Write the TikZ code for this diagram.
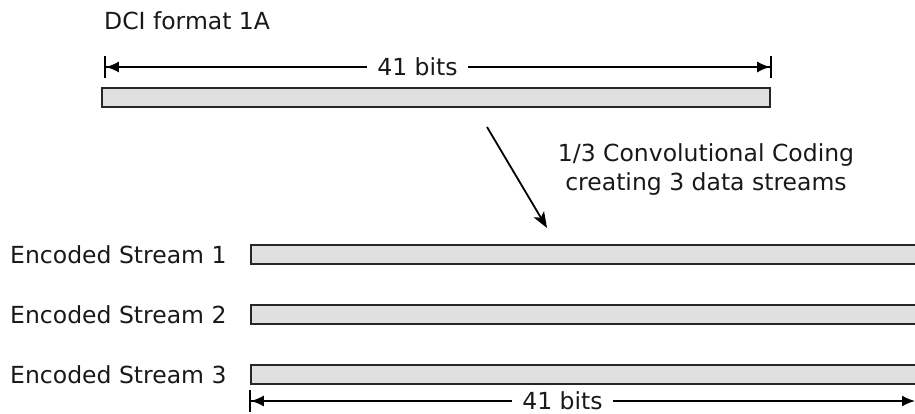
\documentclass[tikz,border=0pt]{standalone}
\usepackage{fontspec}
\setmainfont{DejaVu Sans}
\usetikzlibrary{arrows.meta}
\begin{document}
\begin{tikzpicture}[x=1pt,y=-1pt,
  txt/.style={font=\fontsize{23.5}{29}\selectfont, inner sep=0pt, text=black!90},
  bitbar/.style={draw=black!85, line width=2.2pt, fill=black!12},
  dimline/.style={line width=1.8pt},
  dimlab/.style={txt, inner xsep=10pt},
  flow/.style={line width=1.8pt, -{Stealth[length=16pt,width=12pt,inset=4pt]}}]
\useasboundingbox (0,0) rectangle (915,414);
\clip (0,0) rectangle (915,414);

% DCI input block and its width
\node[txt, anchor=west] (dci) at (104,21) {DCI format 1A};
\draw[bitbar] (102,88) rectangle (770,107);
\node[dimlab] (topbits) at (417.5,67) {41 bits};
\coordinate (topl) at (104,67);
\coordinate (topr) at (772,67);
\draw[dimline, {Bar[width=22pt]Latex[length=13pt,width=11pt]}-] (topl) -- (topbits.west);
\draw[dimline, -{Latex[length=13pt,width=11pt]Bar[width=22pt]}] (topbits.east) -- (topr);

% coding step
\coordinate (from) at (487,127);
\coordinate (to) at (547,228);
\draw[flow] (from) -- (to);
\node[txt, align=center] (coding) at (706,170) {1/3 Convolutional Coding\\creating 3 data streams};

% encoded streams
\foreach \i/\y in {1/254.5, 2/314.5, 3/374.5}{
  \node[txt, anchor=west] (lab\i) at (10,\y) {Encoded Stream \i};
  \draw[bitbar] (251,\y-9.5) rectangle (930,\y+9.5);
}

% width of the encoded streams
\node[dimlab] (botbits) at (562.5,401) {41 bits};
\coordinate (botl) at (249,401);
\coordinate (botr) at (915,401);
\draw[dimline, {Bar[width=22pt]Latex[length=13pt,width=11pt]}-] (botl) -- (botbits.west);
\draw[dimline, -{Latex[length=13pt,width=11pt]}] (botbits.east) -- (botr);
\end{tikzpicture}
\end{document}
